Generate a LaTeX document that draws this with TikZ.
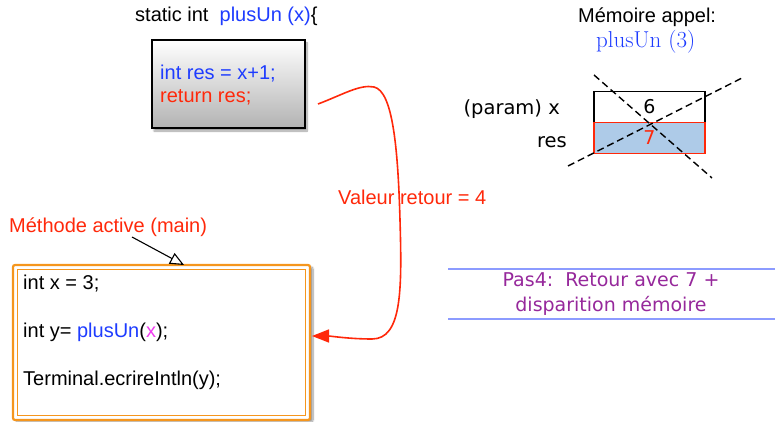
\documentclass[tikz,border=0pt]{standalone}
\usepackage{fontspec}
\setsansfont{Liberation Sans}
\newfontfamily\lucida{DejaVu Sans}
\usetikzlibrary{arrows.meta,shadows.blur}
\definecolor{codeblue}{RGB}{30,60,255}
\definecolor{codered}{RGB}{255,40,10}
\definecolor{codemag}{RGB}{240,60,240}
\definecolor{frameorange}{RGB}{245,150,30}
\definecolor{stepviolet}{RGB}{150,40,155}
\definecolor{ruleblue}{RGB}{140,155,255}
\definecolor{cellblue}{RGB}{174,203,232}
\begin{document}
\begin{tikzpicture}[x=1pt,y=-1pt,
  txt/.style={inner sep=0pt, anchor=base west, font=\sffamily\fontsize{20}{24}\selectfont},
  txtr/.style={inner sep=0pt, anchor=base east, font=\lucida\fontsize{19.5}{23}\selectfont},
  cell/.style={draw, line width=1.3pt, minimum width=111pt, minimum height=31pt, inner sep=0pt,
               font=\lucida\fontsize{19}{23}\selectfont},
  cross/.style={dash pattern=on 7pt off 4pt, line width=1.4pt},
  steptext/.style={inner sep=0pt, align=center, text=stepviolet, font=\lucida\fontsize{19}{25}\selectfont}]
\useasboundingbox (0,0) rectangle (775,422);

% --- called method: header and body box
\node[txt] (head) at (135,22) {static int\ \ \textcolor{codeblue}{plusUn (x)}\{};
\node[draw, line width=1.5pt, minimum width=153pt, minimum height=88pt,
      top color=white, bottom color=black!30,
      blur shadow={shadow xshift=2pt, shadow yshift=-3pt, shadow blur steps=10}] (fnbox) at (228.5,84) {};
\node[txt, text=codeblue] (l1) at (160,80) {int res = x+1;};
\node[txt, text=codered] (l2) at (160,103) {return res;};

% --- caller (main) box
\node[draw=frameorange, line width=2.2pt, rounded corners=2pt, fill=white,
      minimum width=297pt, minimum height=155pt,
      blur shadow={shadow xshift=3pt, shadow yshift=-2pt, shadow blur steps=10}] (mainbox) at (161.5,342.5) {};
\node[draw=frameorange, line width=1.2pt, minimum width=288pt, minimum height=146pt] (mainin) at (161.5,342.5) {};
\node[txt] (m1) at (23,289) {int x = 3;};
\node[txt] (m2) at (23,337) {int y= \textcolor{codeblue}{plusUn}(\textcolor{codemag}{x});};
\node[txt] (m3) at (23,385) {Terminal.ecrireIntln(y);};

% --- label pointing at the active method
\node[txt, text=codered] (active) at (9,232) {Méthode active (main)};
\coordinate (ptr) at (132,237);
\coordinate (ptrtip) at (184,265);
\draw[line width=1.1pt, -{Triangle[open, length=14pt, width=12pt, line width=1.1pt]}] (ptr) -- (ptrtip);

% --- return value arrow
\coordinate (retstart) at (318,104);
\coordinate (retend) at (312,336);
\draw[codered, line width=1.6pt, -{Triangle[length=17pt, width=13pt]}]
  (retstart) .. controls (342,95) and (360,84) .. (374,87)
  .. controls (393,91) and (398,150) .. (400,220)
  .. controls (402,290) and (402,339) .. (372,339)
  .. controls (350,339) and (330,336) .. (retend);
\node[txt, text=codered] (retlbl) at (338,204) {Valeur retour = 4};

% --- call memory
\node[txt] (memtitle) at (578,23) {Mémoire appel:};
\node[inner sep=0pt, anchor=base west, text=codeblue, font=\rmfamily\fontsize{23}{26}\selectfont] (memcall) at (596,48) {plusUn (3)};
\node[cell] (cellx) at (649.5,107) {6};
\node[cell, draw=codered, fill=cellblue, text=codered] (cellres) at (649.5,138) {7};
\node[txtr] (px) at (560,115) {(param) x};
\node[txtr] (pres) at (567,147) {res};
\draw[cross] (594,75) -- (712,178);
\draw[cross] (568,166) -- (742,78);

% --- step caption
\draw[ruleblue, line width=1.4pt] (448,269) -- (775,269);
\draw[ruleblue, line width=1.4pt] (448,319) -- (775,319);
\node[steptext] (step) at (611,294) {Pas4:\ \ Retour avec 7 +\\disparition mémoire};
\end{tikzpicture}
\end{document}
